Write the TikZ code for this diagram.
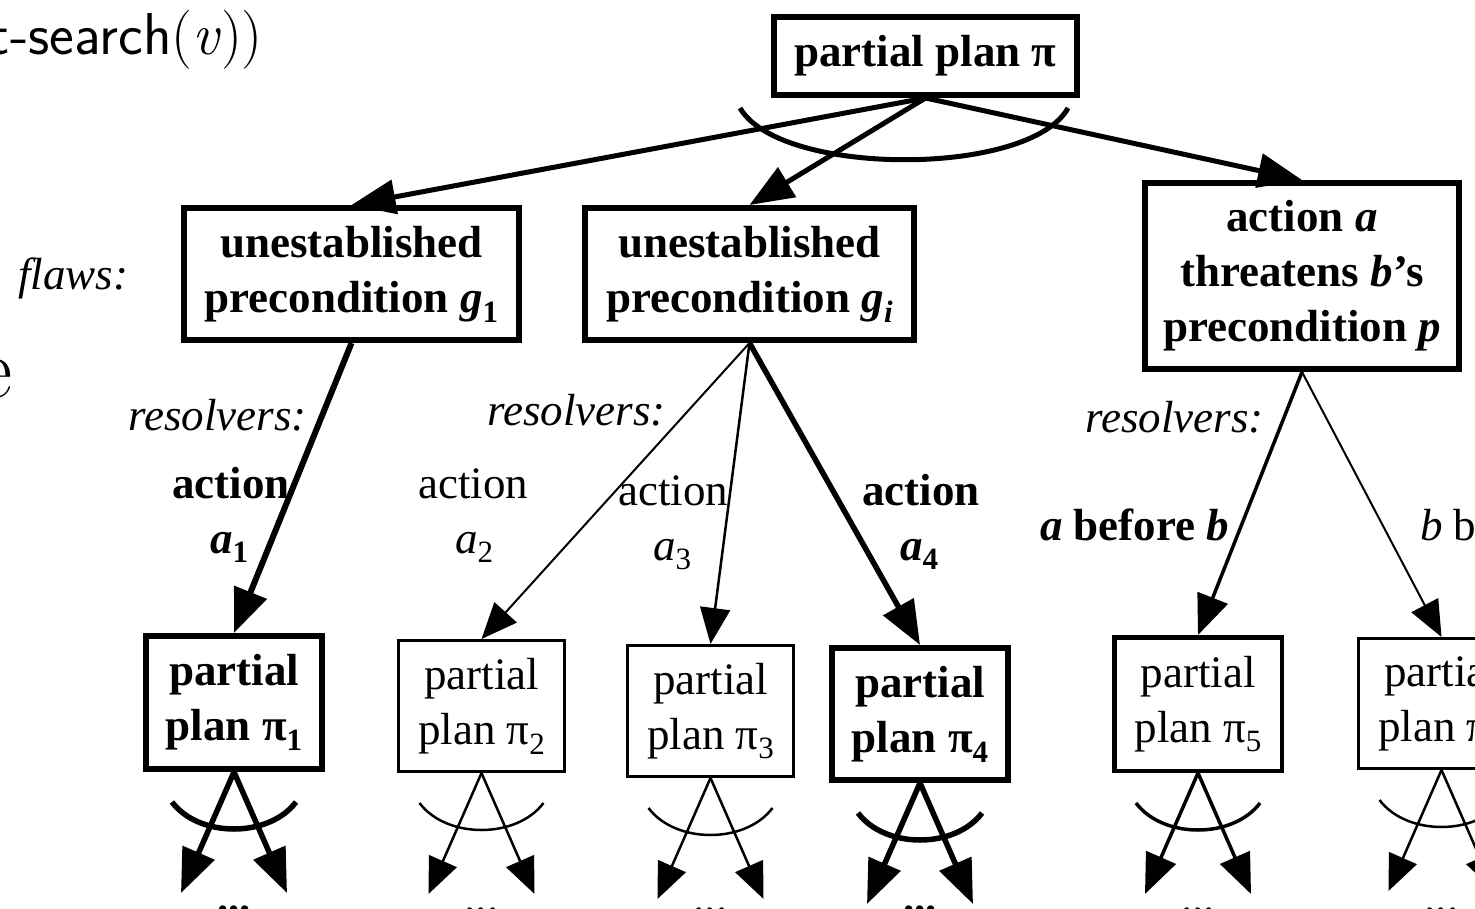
\documentclass[tikz,border=0pt]{standalone}
\usepackage{fontspec}
\newfontfamily\tms{Liberation Serif}
\usetikzlibrary{arrows.meta,calc}

% lowered subscript in the current weight and shape
\newcommand\lowsub[1]{\raisebox{-0.22em}{\fontsize{31}{31}\selectfont #1}}
\newcommand\bit[1]{\textit{#1}}

\tikzset{
  txt/.style={font=\tms\fontsize{45}{55}\selectfont},
  txtb/.style={font=\tms\bfseries\fontsize{45}{55}\selectfont},
  txti/.style={font=\tms\itshape\fontsize{45}{55}\selectfont},
  box/.style={draw, rectangle, inner sep=0pt, align=center},
  lbl/.style={anchor=base west, inner sep=0pt},
  tipL/.style={-{Triangle[length=44pt,width=34pt]}},
  tipM/.style={-{Triangle[length=40pt,width=32pt]}},
  tipS/.style={-{Triangle[length=36pt,width=30pt]}},
}

\begin{document}
\begin{tikzpicture}[x=1pt,y=-1pt]
\clip (0,0) rectangle (1475,909);
\useasboundingbox (0,0) rectangle (1475,909);
\fill[white] (0,0) rectangle (1475,909);

% fragments of the surrounding text
\node[anchor=base east, inner sep=0pt, font=\sffamily\fontsize{59}{64}\selectfont] (title) at (263,55) {t-search{\rmfamily(\itshape v\/\upshape))}};
\node[anchor=base east, inner sep=0pt, font=\fontsize{86}{90}\selectfont] (cute) at (13,397) {e};

% plan and flaw nodes
\node[box, txtb, line width=6pt, minimum width=303pt, minimum height=78pt] (top) at (925.5,56) {partial plan π};
\node[box, txtb, line width=6pt, minimum width=335pt, minimum height=132pt] (g1) at (351.5,274) {unestablished\\precondition \bit{g}\lowsub{1}};
\node[box, txtb, line width=6pt, minimum width=329pt, minimum height=132pt] (gi) at (749.5,274) {unestablished\\precondition \bit{g}\lowsub{\itshape i}};
\node[box, txtb, line width=6pt, minimum width=314pt, minimum height=186pt] (thr) at (1302,276) {action \bit{a}\\threatens \bit{b}’s\\precondition \bit{p}};

\node[box, txtb, line width=6pt, minimum width=176pt, minimum height=133pt] (p1) at (234,702.5) {partial\\plan π\lowsub{1}};
\node[box, txt, line width=3pt, minimum width=166pt, minimum height=131pt] (p2) at (481.5,706) {partial\\plan π\lowsub{2}};
\node[box, txt, line width=3pt, minimum width=166pt, minimum height=131pt] (p3) at (710.5,711) {partial\\plan π\lowsub{3}};
\node[box, txtb, line width=6pt, minimum width=176pt, minimum height=132pt] (p4) at (920,714) {partial\\plan π\lowsub{4}};
\node[box, txt, line width=4.5pt, minimum width=167.5pt, minimum height=133.5pt] (p5) at (1198,704) {partial\\plan π\lowsub{5}};
\node[box, txt, line width=3pt, minimum width=166pt, minimum height=130pt] (p6) at (1441.5,703.5) {partial\\plan π\lowsub{6}};

% flaws of the top plan
\draw[line width=5pt, tipL] (top.south) -- (g1.north);
\draw[line width=5pt, tipL] (top.south) -- (gi.north);
\draw[line width=5pt, tipL] (top.south) -- (thr.north);
\draw[line width=5pt] ($(top.south)+(-185.5,10)$) .. controls ($(top.south)+(-145.5,79)$) and ($(top.south)+(104.5,79)$) .. ($(top.south)+(142.5,10)$);

% resolvers
\draw[line width=6pt, tipL] (g1.south) -- (p1.north);
\draw[line width=2pt, tipS] (gi.south) -- (p2.north);
\draw[line width=2.5pt, tipS] (gi.south) -- (p3.north);
\draw[line width=5.5pt, tipL] (gi.south) -- (p4.north);
\draw[line width=3.5pt, tipM] (thr.south) -- (p5.north);
\draw[line width=2pt, tipS] (thr.south) -- (p6.north);

% labels
\node[lbl, txti] (flaws) at (18,290) {flaws:};
\node[lbl, txti] (res1) at (128,430) {resolvers:};
\node[lbl, txti] (res2) at (487,425) {resolvers:};
\node[lbl, txti] (res3) at (1085,432) {resolvers:};
\node[lbl, txtb] (act1) at (172,498) {action};
\node[lbl, txtb] (var1) at (210,553) {\bit{a}\lowsub{1}};
\node[lbl, txt] (act2) at (418,498) {action};
\node[lbl, txt] (var2) at (455,553) {\bit{a}\lowsub{2}};
\node[lbl, txt] (act3) at (618,505) {action};
\node[lbl, txt] (var3) at (653,560) {\bit{a}\lowsub{3}};
\node[lbl, txtb] (act4) at (862,505) {action};
\node[lbl, txtb] (var4) at (900,560) {\bit{a}\lowsub{4}};
\node[lbl, txtb] (ord1) at (1040,540) {\bit{a} before \bit{b}};
\node[lbl, txt] (ord2) at (1420,540) {\bit{b} before \bit{a}};

% each child plan fans out into its own flaws
\coordinate (dotline) at (0,912);
\foreach \n/\w/\tp/\ft in {p1/5.5/tipL/txtb, p2/2.5/tipS/txt, p3/2.5/tipS/txt, p4/5.5/tipL/txtb, p5/3.5/tipM/txt, p6/2.5/tipS/txt}{
  \coordinate (\n-l) at ($(\n.south)+(-53,121)$);
  \coordinate (\n-r) at ($(\n.south)+(53,121)$);
  \draw[line width=\w pt, \tp] (\n.south) -- (\n-l);
  \draw[line width=\w pt, \tp] (\n.south) -- (\n-r);
  \draw[line width=\w pt] ($(\n.south)+(-62,30)$) .. controls ($(\n.south)+(-35,66)$) and ($(\n.south)+(35,66)$) .. ($(\n.south)+(62,30)$);
  \node[\ft, anchor=base, inner sep=0pt] (\n-dots) at (\n.south |- dotline) {...};
}
\end{tikzpicture}
\end{document}
